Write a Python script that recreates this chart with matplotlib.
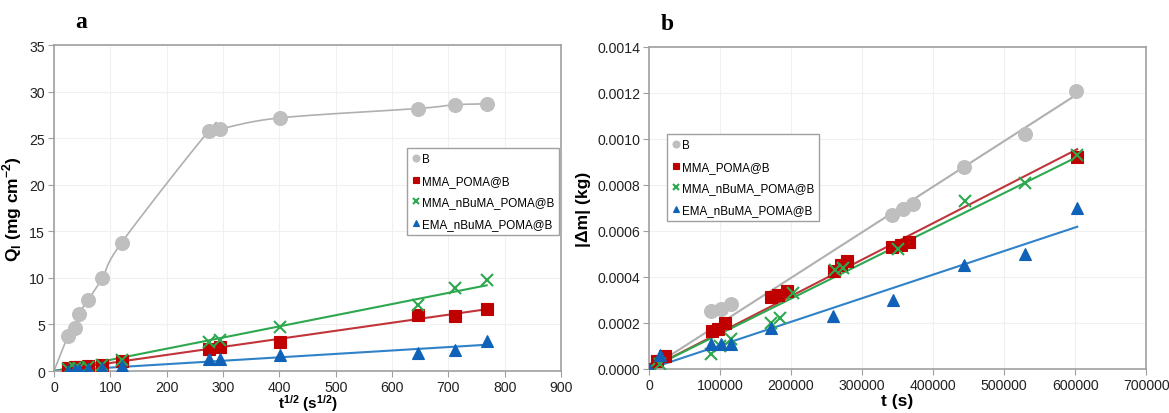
import numpy as np
import matplotlib.pyplot as plt

plt.rcParams['font.family'] = ['Liberation Sans', 'DejaVu Sans']
plt.rcParams['mathtext.fontset'] = 'custom'
plt.rcParams['mathtext.rm'] = 'Liberation Sans'
plt.rcParams['mathtext.bf'] = 'Liberation Sans:bold'

# ---- panel a : Q_l vs t^1/2 ----
sqt = [25, 37, 44, 60, 86, 120, 275, 294, 402, 646, 711, 768]
qa_B = [3.75, 4.6, 6.1, 7.6, 10.0, 13.8, 25.8, 26.0, 27.2, 28.2, 28.6, 28.7]
qa_MMA = [0.3, 0.4, 0.45, 0.5, 0.7, 1.1, 2.35, 2.55, 3.1, 6.0, 5.9, 6.7]
qa_nBu = [0.2, 0.3, 0.35, 0.4, 0.6, 1.2, 3.1, 3.3, 4.7, 7.1, 8.9, 9.75]
qa_EMA = [0.05, 0.1, 0.1, 0.2, 0.3, 0.55, 1.3, 1.3, 1.7, 1.9, 2.3, 3.2]

# ---- panel b : |dm| vs t ----
tb_B = [0, 87000, 101000, 115000, 342000, 358000, 372000, 443000, 530000, 602000]
mb_B = [0, 0.000252, 0.00026, 0.000283, 0.00067, 0.000696, 0.000717, 0.000878, 0.00102, 0.00121]
tb_MMA = [0, 11000, 22000, 88000, 97000, 107000, 172000, 181000, 194000, 261000,
          271000, 279000, 342000, 355000, 366000, 603000]
mb_MMA = [0, 0.000035, 0.000057, 0.000165, 0.000174, 0.0002, 0.000313, 0.00032, 0.00034,
          0.000426, 0.00045, 0.00047, 0.00053, 0.00054, 0.00055, 0.00092]
tb_nBu = [0, 15000, 87000, 100000, 116000, 172000, 185000, 203000, 262000, 273000,
          350000, 445000, 530000, 603000]
mb_nBu = [0, 0.00002, 0.000065, 0.0001, 0.00013, 0.0002, 0.00022, 0.00033, 0.00043,
          0.00044, 0.00052, 0.00073, 0.00081, 0.00093]
tb_EMA = [0, 15000, 87000, 101000, 115000, 172000, 259000, 343000, 444000, 530000, 603000]
mb_EMA = [0, 0.00006, 0.00011, 0.00011, 0.00011, 0.00018, 0.00023, 0.0003, 0.00045,
          0.0005, 0.0007]

labels = ['B', 'MMA_POMA@B', 'MMA_nBuMA_POMA@B', 'EMA_nBuMA_POMA@B']
c_mark = ['#BFBFBF', '#C00000', '#2EA84E', '#0F62B8']
c_line = ['#B0B0B0', '#C0353A', '#2EA84E', '#2F82C8']
mk = ['o', 's', 'x', '^']
ms = [10, 9, 9, 9]


def catmull(x, y, n=30):
    # smooth line through the points (like Excel "smoothed line")
    p = np.column_stack([x, y]).astype(float)
    p = np.vstack([p[0], p, p[-1]])
    out = []
    for i in range(1, len(p) - 2):
        p0, p1, p2, p3 = p[i - 1], p[i], p[i + 1], p[i + 2]
        s = np.linspace(0, 1, n)[:, None]
        seg = 0.5 * (2 * p1 + (-p0 + p2) * s + (2 * p0 - 5 * p1 + 4 * p2 - p3) * s ** 2
                     + (-p0 + 3 * p1 - 3 * p2 + p3) * s ** 3)
        out.append(seg)
    out = np.vstack(out)
    return out[:, 0], out[:, 1]


def fit0(x, y):
    x = np.array(x, float)
    y = np.array(y, float)
    return (x * y).sum() / (x * x).sum()


def style(ax):
    ax.grid(True, color='#F0F0F0', lw=0.8)
    ax.set_axisbelow(True)
    for s in ax.spines.values():
        s.set_color('#A0A0A0')
        s.set_linewidth(1.2)
    ax.tick_params(colors='#222222', labelsize=10.2, length=4, color='#A0A0A0', pad=2.5)


def legend(ax, anchor):
    lg = ax.legend(loc='upper left', bbox_to_anchor=anchor, fontsize=8.4,
                   markerscale=0.5, handlelength=0.6, handletextpad=0.2,
                   labelspacing=0.82, borderpad=0.45, borderaxespad=0,
                   fancybox=False, framealpha=1)
    lg.get_frame().set_edgecolor('#A0A0A0')
    return lg


fig = plt.figure(figsize=(11.69, 4.14), dpi=100)
ax1 = fig.add_axes([0.0462, 0.1014, 0.4337, 0.787])
ax2 = fig.add_axes([0.5552, 0.1063, 0.4252, 0.778])

# panel a
cx, cy = catmull([0] + sqt, [0] + qa_B)
ax1.plot(cx, cy, color=c_line[0], lw=1.2, zorder=2)
series_a = [qa_B, qa_MMA, qa_nBu, qa_EMA]
xl = np.array([0, sqt[-1]])
for i in (1, 2, 3):
    k = fit0(sqt, series_a[i])
    ax1.plot(xl, k * xl, color=c_line[i], lw=1.5, zorder=2)
for i in range(4):
    ax1.plot(sqt, series_a[i], ls='none', marker=mk[i], ms=ms[i], color=c_mark[i],
             mew=1.5 if mk[i] == 'x' else 0.8, label=labels[i], zorder=3)
ax1.set_xlim(0, 900)
ax1.set_ylim(0, 35)
ax1.set_xticks(np.arange(0, 901, 100))
ax1.set_yticks(np.arange(0, 36, 5))
ax1.set_xlabel(r'$\mathbf{t^{1/2}}$ $\mathbf{(s^{1/2})}$', fontsize=11)
ax1.xaxis.set_label_coords(0.5, -0.066)
ax1.set_ylabel(r'Q$_\mathregular{l}$ (mg cm$^\mathregular{-2}$)', fontsize=12.5,
               fontweight='bold', labelpad=4)
style(ax1)
legend(ax1, (0.697, 0.685))

# panel b
series_b = [(tb_B, mb_B), (tb_MMA, mb_MMA), (tb_nBu, mb_nBu), (tb_EMA, mb_EMA)]
for i in range(4):
    t, m = series_b[i]
    k = fit0(t, m)
    tl = np.array([0, max(t)])
    ax2.plot(tl, k * tl, color=c_line[i], lw=1.5, zorder=2)
for i in range(4):
    t, m = series_b[i]
    ax2.plot(t, m, ls='none', marker=mk[i], ms=ms[i], color=c_mark[i],
             mew=1.5 if mk[i] == 'x' else 0.8, label=labels[i], zorder=3)
ax2.set_xlim(0, 700000)
ax2.set_ylim(0, 0.0014)
ax2.set_xticks(np.arange(0, 700001, 100000))
ax2.set_yticks(np.arange(0, 0.00141, 0.0002))
ax2.set_yticklabels(['%.4f' % v for v in np.arange(0, 0.00141, 0.0002)])
ax2.set_xlabel('t (s)', fontsize=12.5, fontweight='bold', labelpad=1)
ax2.set_ylabel('|Δm| (kg)', fontsize=12.5, fontweight='bold', labelpad=4)
style(ax2)
legend(ax2, (0.036, 0.73))

fig.text(0.064, 0.945, 'a', fontsize=17, fontweight='bold', family='Liberation Serif',
         va='center')
fig.text(0.565, 0.94, 'b', fontsize=17, fontweight='bold', family='Liberation Serif',
         va='center')

fig.savefig('out.png', dpi=100)
